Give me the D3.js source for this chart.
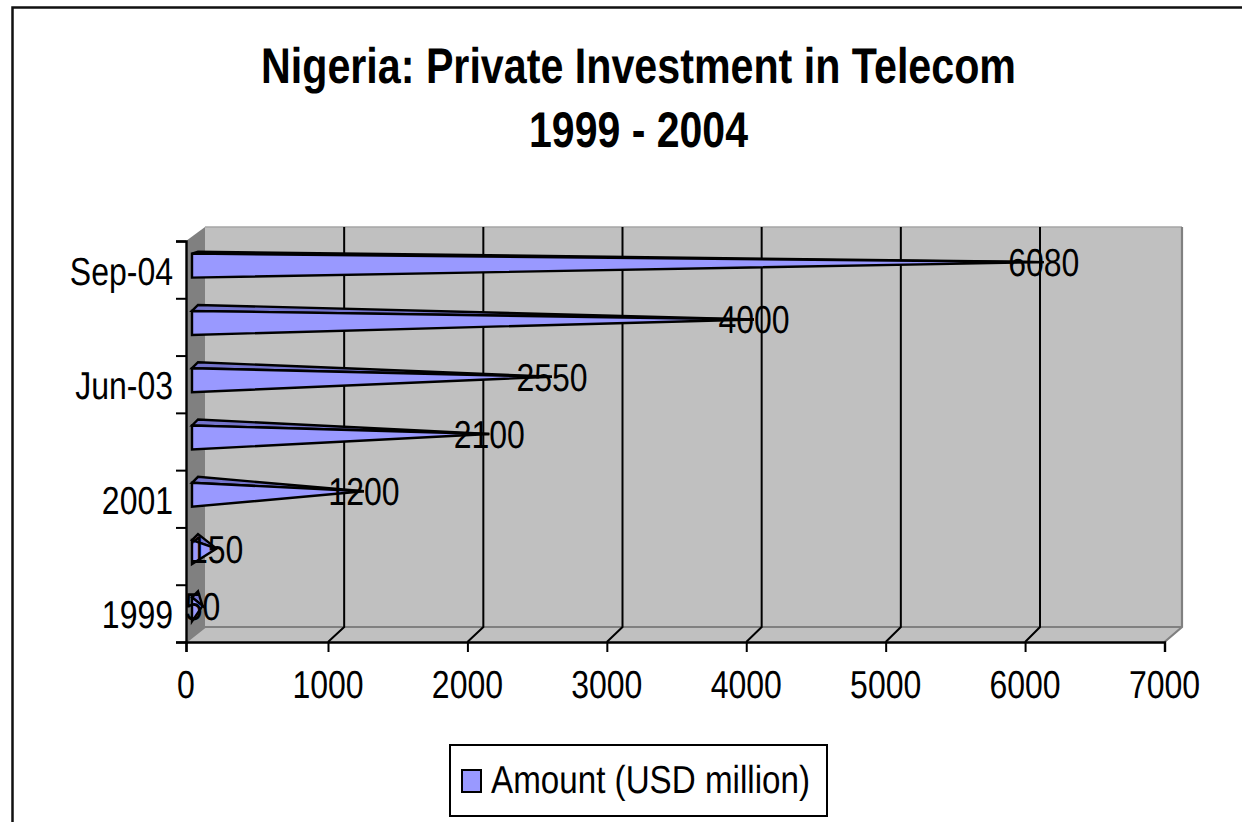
<!DOCTYPE html>
<html>
<head>
<meta charset="utf-8">
<title>Nigeria: Private Investment in Telecom</title>
<script src="https://cdn.jsdelivr.net/npm/d3@7"></script>
<style>
  html, body { margin: 0; padding: 0; background: #fff; }
  svg { display: block; }
  text { font-family: "Liberation Sans", Arial, sans-serif; fill: #000; text-rendering: geometricPrecision; }
</style>
</head>
<body>
<svg id="chart" width="1242" height="822"></svg>
<script>
// Investment by period, oldest first
const categories = ["1999", "2000", "2001", "2002", "Jun-03", "Dec-03", "Sep-04"];
const amounts = [50, 150, 1200, 2100, 2550, 4000, 6080];
const labelledCategories = ["1999", "2001", "Jun-03", "Sep-04"];
const valueTicks = [0, 1000, 2000, 3000, 4000, 5000, 6000, 7000];
const titleLines = ["Nigeria: Private Investment in Telecom", "1999 - 2004"];
const seriesName = "Amount (USD million)";

const svg = d3.select("#chart");
const ink = "#000";
const faceFill = "#9999ff", topFill = "#7474cc";
const plotFill = "#c0c0c0", edge = "#808080";

// Front plane of the oblique box and the shift to its back plane
const boxLeft = 186, boxRight = 1164.5, boxBottom = 642, boxTop = 241;
const backLeft = 205, backRight = 1182, backBottom = 627, backTop = 227;
const textScale = 0.82;

// The projection is not quite parallel, so front and back planes get their own scales
const x = d3.scaleLinear().domain([0, 1000, 7000]).range([boxLeft, 328, boxRight]);
const xBack = d3.scaleLinear().domain([0, 6000, 7000]).range([backLeft, 1040, backRight]);
const y = d3.scaleBand().domain(categories).range([boxBottom, boxTop]);
const edges = d3.scaleLinear().domain([0, categories.length]).range([boxBottom, boxTop]);

// Narrow text helper: tall glyphs squeezed horizontally
function label(parent, str, px, py, anchor, size) {
  return parent.append("text")
    .attr("transform", `translate(${px},${py}) scale(${textScale},1)`)
    .attr("text-anchor", anchor)
    .attr("font-size", size)
    .text(str);
}
const poly = pts => pts.map(p => p.join(",")).join(" ");

// Outer frame: top and left rules only reach the page edge
svg.append("path")
  .attr("d", "M12.5,822V7.5H1242")
  .attr("fill", "none").attr("stroke", "#111").attr("stroke-width", 2.5);

// Title
titleLines.forEach((t, i) => {
  svg.append("text")
    .attr("x", 638.5).attr("y", 83 + i * 64)
    .attr("text-anchor", "middle")
    .attr("font-size", 50).attr("font-weight", "bold")
    .attr("textLength", i === 0 ? 755 : 219)
    .attr("lengthAdjust", "spacingAndGlyphs")
    .text(t);
});

// Box: back wall, side wall, floor
svg.append("rect")
  .attr("x", backLeft).attr("y", backTop)
  .attr("width", backRight - backLeft).attr("height", backBottom - backTop)
  .attr("fill", plotFill);
svg.append("polygon")
  .attr("points", poly([[boxLeft, boxTop], [backLeft, backTop], [backLeft, backBottom], [boxLeft, boxBottom]]))
  .attr("fill", edge);
svg.append("polygon")
  .attr("points", poly([[boxLeft, boxBottom], [backLeft, backBottom], [backRight, backBottom], [boxRight, boxBottom]]))
  .attr("fill", plotFill);
svg.append("path")
  .attr("d", `M${backLeft},${backTop}H${backRight}`)
  .attr("stroke", "#a6a6a6").attr("stroke-width", 1.5).attr("fill", "none");
svg.append("path")
  .attr("d", `M${backLeft},${backBottom}H${backRight}M${backRight},${backTop}V${backBottom}L${boxRight},${boxBottom}M${backLeft},${backBottom}L${boxLeft},${boxBottom}`)
  .attr("stroke", edge).attr("stroke-width", 2.2).attr("fill", "none");

// Gridlines run up the back wall and forward across the floor
const inner = valueTicks.slice(1, -1);
svg.append("g").selectAll("path").data(inner).join("path")
  .attr("d", v => `M${xBack(v)},${backTop}V${backBottom}L${x(v)},${boxBottom}`)
  .attr("fill", "none").attr("stroke", ink).attr("stroke-width", 2);

// Value axis
const xAxis = svg.append("g")
  .attr("transform", `translate(0,${boxBottom})`)
  .call(d3.axisBottom(x).tickValues(valueTicks).tickSize(10).tickFormat(""));
xAxis.select(".domain").attr("stroke", ink).attr("stroke-width", 2.4);
xAxis.selectAll(".tick line").attr("stroke", ink).attr("stroke-width", 2);
valueTicks.forEach(v => label(svg, String(v), x(v), 698, "middle", 39));

// Category axis: ticks fall on the band edges, labels sit between them
const yAxis = svg.append("g")
  .attr("transform", `translate(${boxLeft},0)`)
  .call(d3.axisLeft(edges).tickValues(d3.range(categories.length + 1)).tickSize(10).tickFormat(""));
yAxis.select(".domain").attr("stroke", ink).attr("stroke-width", 2.4);
yAxis.selectAll(".tick line").attr("stroke", ink).attr("stroke-width", 2);
labelledCategories.forEach(c => {
  label(svg, c, 173, y(c) + y.bandwidth() / 2 + 15, "end", 39);
});

// Pyramid bars: flat base at the wall, apex at the value on the mid-depth plane
const rows = categories.map((c, i) => ({ c, v: amounts[i], cy: y(c) + y.bandwidth() / 2 }));
const baseX = boxLeft + 6;
const bars = svg.append("g").selectAll("g").data(rows).join("g")
  .attr("stroke", ink).attr("stroke-width", 2.4).attr("stroke-linejoin", "miter");
const apex = d => [(x(d.v) + xBack(d.v)) / 2, d.cy - 7.5];
bars.append("polygon")
  .attr("points", d => {
    // the highest pyramid is seen almost edge-on from above
    const rise = d.cy < 280 ? 2 : 6;
    return poly([[baseX, d.cy - 16], [baseX + 6, d.cy - 16 - rise], apex(d)]);
  })
  .attr("fill", topFill);
bars.append("polygon")
  .attr("points", d => poly([[baseX, d.cy - 16], [baseX, d.cy + 8], apex(d)]))
  .attr("fill", faceFill);

// Value labels centred on each apex
rows.forEach(d => {
  const [ax, ay] = apex(d);
  label(svg, String(d.v), ax, ay + 14, "middle", 39);
});

// Legend
svg.append("rect")
  .attr("x", 450).attr("y", 745).attr("width", 377).attr("height", 71)
  .attr("fill", "#fff").attr("stroke", ink).attr("stroke-width", 2);
svg.append("rect")
  .attr("x", 462).attr("y", 770).attr("width", 19).attr("height", 22)
  .attr("fill", faceFill).attr("stroke", ink).attr("stroke-width", 2);
svg.append("text")
  .attr("x", 491).attr("y", 793)
  .attr("font-size", 39)
  .attr("textLength", 319).attr("lengthAdjust", "spacingAndGlyphs")
  .text(seriesName);
</script>
</body>
</html>
